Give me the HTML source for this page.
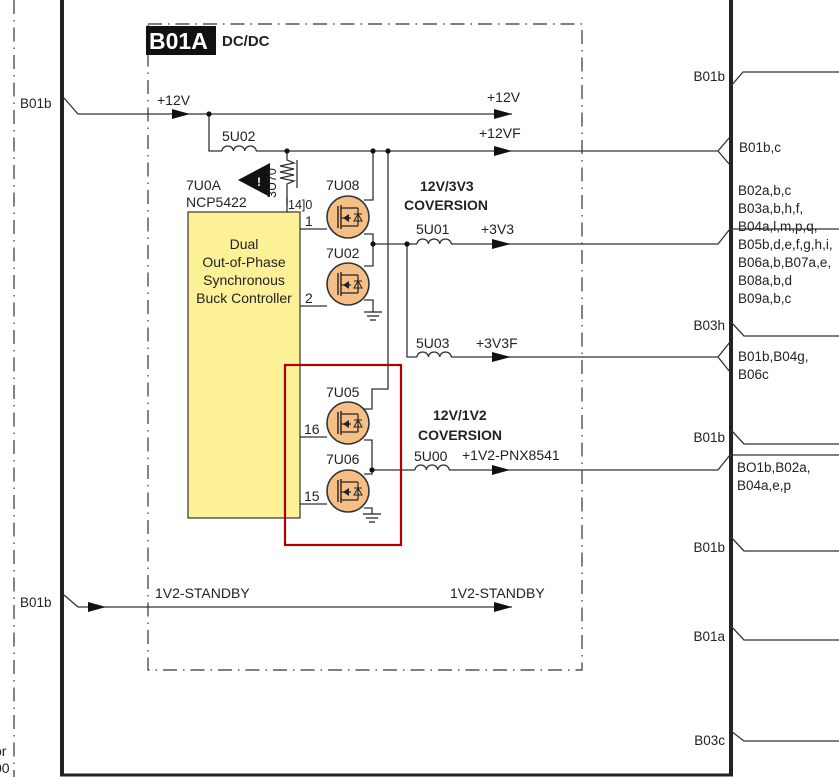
<!DOCTYPE html>
<html><head><meta charset="utf-8"><style>
html,body{margin:0;padding:0;background:#fff;}
svg{display:block;}
text{font-family:"Liberation Sans",Arial,sans-serif;fill:#222;font-size:14px;}
.b{font-weight:bold;}
.s{font-size:13.5px;}
</style></head><body>
<svg width="839" height="777" viewBox="0 0 839 777" xmlns="http://www.w3.org/2000/svg">
<defs>
<g id="fet">
<circle cx="0" cy="0" r="21" fill="#f6bf86" stroke="#333" stroke-width="1.6"/>
<line x1="-10" y1="-11" x2="-10" y2="11" stroke="#222" stroke-width="1.4"/>
<line x1="-7" y1="-12" x2="-7" y2="12" stroke="#222" stroke-width="1.4"/>
<path d="M-7 -9 H10 M-7 9 H10 M10 -9 V9" stroke="#222" stroke-width="1.2" fill="none"/>
<path d="M-7 1 H3" stroke="#222" stroke-width="1.2"/>
<path d="M-5 1 L1 -3 L1 5 Z" fill="#222"/>
<path d="M6 4 L10 -3 L14 4 Z M6 -3 H14" stroke="#222" stroke-width="1" fill="none"/>
</g>
<g id="gnd"><path d="M-9 0 H9 M-6 4 H6 M-3 8 H3" stroke="#222" stroke-width="1.2"/></g>
</defs>

<line x1="14" y1="0" x2="14" y2="777" stroke="#333" stroke-width="1.2" stroke-dasharray="14,6,1.5,6"/>
<line x1="62" y1="0" x2="62" y2="775" stroke="#222" stroke-width="4"/>
<line x1="731" y1="0" x2="731" y2="775" stroke="#222" stroke-width="4"/>
<line x1="60" y1="775" x2="733" y2="775" stroke="#222" stroke-width="3"/>

<rect x="148" y="24" width="434" height="646" fill="none" stroke="#333" stroke-width="1.2" stroke-dasharray="14,6,1.5,6"/>
<rect x="146" y="26" width="70" height="29" fill="#111"/>
<text x="149" y="49" class="b" style="fill:#fff;font-size:23px">B01A</text>
<text x="222" y="46" class="b" style="font-size:15px">DC/DC</text>

<g stroke="#333" stroke-width="1.3" fill="none">
<path d="M64 98 L78 114 H512"/>
<path d="M731 86 L743 72 H839"/>
<path d="M209 114 V151 H222 M256 151 H718"/>
<path d="M222 151 a5.7 5 0 0 1 11.4 0 a5.7 5 0 0 1 11.4 0 a5.7 5 0 0 1 11.4 0"/>
<path d="M730 137 L718 151 L730 165"/>
<path d="M287 151 V160 l7 3 -14 3 14 3 -14 3 14 3 -14 3 14 3 -7 3 V212"/>
<path d="M297 160 V188" />
<path d="M373 151 V200 H364"/>
<path d="M364 234 H373 V266 H364"/>
<path d="M364 300 H373 V312"/>
<path d="M388 151 V389 H372 V409 H364"/>
<path d="M364 440 H372 V474 H364"/>
<path d="M364 508 H372 V514"/>
<path d="M373 244 H417 M451 244 H718 L730 229 H839"/>
<path d="M417 244 a5.7 5 0 0 1 11.4 0 a5.7 5 0 0 1 11.4 0 a5.7 5 0 0 1 11.4 0"/>
<path d="M407 244 V357 H417 M451 357 H718"/>
<path d="M417 357 a5.7 5 0 0 1 11.4 0 a5.7 5 0 0 1 11.4 0 a5.7 5 0 0 1 11.4 0"/>
<path d="M730 342 L718 357 L730 372"/>
<path d="M372 470 H415 M449 470 H718 L730 455 H839"/>
<path d="M415 470 a5.7 5 0 0 1 11.4 0 a5.7 5 0 0 1 11.4 0 a5.7 5 0 0 1 11.4 0"/>
<path d="M300 229 H327 M300 306 H327 M300 437 H327 M300 504 H327"/>
<path d="M64 595 L78 607 H512"/>
<path d="M731 322 L744 336 H839"/>
<path d="M731 430 L744 444 H839"/>
<path d="M731 537 L744 551 H839"/>
<path d="M731 626 L744 640 H839"/>
<path d="M731 731 L744 741 H839"/>
<path d="M287 197 V205"/>
</g>

<g fill="#111">
<path d="M172 109 L190 114 L172 119Z"/>
<path d="M494 109 L512 114 L494 119Z"/>
<path d="M494 146 L512 151 L494 156Z"/>
<path d="M492 239 L511 244 L492 249Z"/>
<path d="M492 352 L511 357 L492 362Z"/>
<path d="M492 465 L510 470 L492 475Z"/>
<path d="M88 602 L106 607 L88 612Z"/>
<path d="M494 602 L512 607 L494 612Z"/>
<circle cx="209" cy="114" r="2.6"/>
<circle cx="287" cy="151" r="2.6"/>
<circle cx="373" cy="151" r="2.6"/>
<circle cx="388" cy="151" r="2.6"/>
<circle cx="373" cy="244" r="2.6"/>
<circle cx="407" cy="244" r="2.6"/>
<circle cx="372" cy="470" r="2.6"/>
<path d="M238 180 L270 163 L270 197Z"/>
</g>
<text x="257" y="186" class="b" style="fill:#fff;font-size:12px">!</text>

<rect x="188" y="212" width="112" height="306" fill="#fdf197" stroke="#333" stroke-width="1.2"/>
<text x="244" y="249" text-anchor="middle">Dual</text>
<text x="244" y="267" text-anchor="middle">Out-of-Phase</text>
<text x="244" y="285" text-anchor="middle">Synchronous</text>
<text x="244" y="303" text-anchor="middle">Buck Controller</text>

<use href="#fet" x="348" y="217"/>
<use href="#fet" x="348" y="284"/>
<use href="#fet" x="348" y="423"/>
<use href="#fet" x="348" y="491"/>
<use href="#gnd" x="373" y="312"/>
<use href="#gnd" x="372" y="514"/>

<rect x="285" y="365" width="116" height="180" fill="none" stroke="#b00000" stroke-width="2.2"/>

<text x="157" y="105">+12V</text>
<text x="487" y="102">+12V</text>
<text x="222" y="141">5U02</text>
<text x="479" y="138">+12VF</text>
<text x="186" y="190">7U0A</text>
<text x="186" y="207">NCP5422</text>
<text x="288" y="209" style="font-size:12.5px">14]0</text>
<text transform="translate(276,198) rotate(-90)" style="font-size:12.5px">3U70</text>
<text x="326" y="190">7U08</text>
<text x="326" y="258">7U02</text>
<text x="326" y="397">7U05</text>
<text x="326" y="464">7U06</text>
<text x="305" y="226">1</text>
<text x="305" y="303">2</text>
<text x="304" y="434">16</text>
<text x="304" y="501">15</text>
<text x="420" y="191" class="b">12V/3V3</text>
<text x="404" y="210" class="b">COVERSION</text>
<text x="433" y="420" class="b">12V/1V2</text>
<text x="418" y="440" class="b">COVERSION</text>
<text x="416" y="234">5U01</text>
<text x="481" y="234">+3V3</text>
<text x="416" y="348">5U03</text>
<text x="476" y="348">+3V3F</text>
<text x="414" y="461">5U00</text>
<text x="462" y="460">+1V2-PNX8541</text>
<text x="155" y="598">1V2-STANDBY</text>
<text x="450" y="598">1V2-STANDBY</text>

<text x="20" y="108" class="s">B01b</text>
<text x="20" y="607" class="s">B01b</text>
<text x="-6" y="756">or</text>
<text x="-6" y="773">00</text>

<g text-anchor="end">
<text x="725" y="81" class="s">B01b</text>
<text x="725" y="330" class="s">B03h</text>
<text x="725" y="442" class="s">B01b</text>
<text x="725" y="552" class="s">B01b</text>
<text x="725" y="641" class="s">B01a</text>
<text x="725" y="745" class="s">B03c</text>
</g>
<g class="s">
<text x="739" y="152" class="s">B01b,c</text>
<text x="738" y="195" class="s">B02a,b,c</text>
<text x="738" y="213" class="s">B03a,b,h,f,</text>
<text x="738" y="231" class="s">B04a,l,m,p,q,</text>
<text x="738" y="249" class="s">B05b,d,e,f,g,h,i,</text>
<text x="738" y="267" class="s">B06a,b,B07a,e,</text>
<text x="738" y="285" class="s">B08a,b,d</text>
<text x="738" y="303" class="s">B09a,b,c</text>
<text x="738" y="361" class="s">B01b,B04g,</text>
<text x="738" y="379" class="s">B06c</text>
<text x="737" y="472" class="s">BO1b,B02a,</text>
<text x="737" y="490" class="s">B04a,e,p</text>
</g>
</svg>
</body></html>
